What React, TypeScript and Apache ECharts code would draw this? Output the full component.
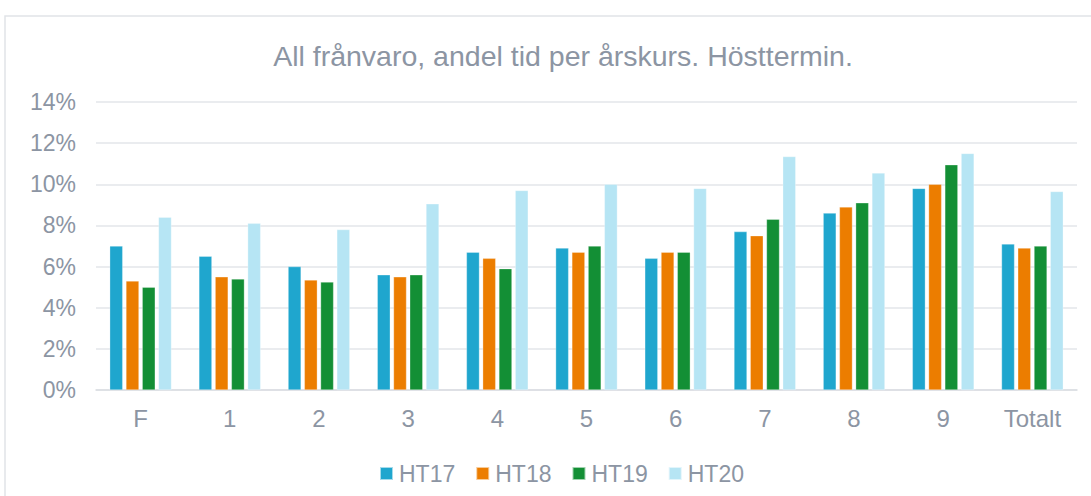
import React, { useEffect, useRef } from "react";
import * as echarts from "echarts";

const categories = ["F", "1", "2", "3", "4", "5", "6", "7", "8", "9", "Totalt"];
const seriesNames = ["HT17", "HT18", "HT19", "HT20"];
const ht17 = [7.0, 6.5, 6.0, 5.6, 6.7, 6.9, 6.4, 7.7, 8.6, 9.8, 7.1];
const ht18 = [5.3, 5.5, 5.35, 5.5, 6.4, 6.7, 6.7, 7.5, 8.9, 10.0, 6.9];
const ht19 = [5.0, 5.4, 5.25, 5.6, 5.9, 7.0, 6.7, 8.3, 9.1, 10.95, 7.0];
const ht20 = [8.4, 8.1, 7.8, 9.05, 9.7, 10.0, 9.8, 11.35, 10.55, 11.5, 9.65];
const colors = ["#1FA6CE", "#EC7D00", "#138F35", "#B6E5F4"];
const yTicks = { min: 0, max: 14, interval: 2 };

const textColor = "#8C95A3";
const font = "'Liberation Sans', Arial, sans-serif";

export default function App() {
  const ref = useRef<HTMLDivElement>(null);
  useEffect(() => {
    if (!ref.current) return;
    const chart = echarts.init(ref.current, null, { renderer: "svg" });
    const data = [ht17, ht18, ht19, ht20];
    chart.setOption({
      animation: false,
      backgroundColor: "#ffffff",
      textStyle: { fontFamily: font },
      title: {
        text: "All frånvaro, andel tid per årskurs. Hösttermin.",
        left: 558,
        textAlign: "center",
        top: 36,
        textStyle: { color: textColor, fontSize: 28.5, fontWeight: "normal", fontFamily: font },
      },
      graphic: [
        {
          type: "rect",
          shape: { x: 5, y: 16, width: 1100, height: 500 },
          style: { fill: "none", stroke: "#E1E4E8", lineWidth: 1.5 },
          silent: true,
          z: -1,
        },
      ],
      legend: {
        data: seriesNames,
        left: 374,
        top: 457,
        itemWidth: 13,
        itemHeight: 13,
        itemGap: 20,
        icon: "rect",
        textStyle: { color: textColor, fontSize: 23, fontFamily: font, padding: [0, 0, 0, 1] },
      },
      grid: { left: 96, right: 14, top: 102, bottom: 106 },
      xAxis: {
        type: "category",
        data: categories,
        axisLine: { lineStyle: { color: "#DADDE2", width: 1.5 } },
        axisTick: { show: false },
        axisLabel: { color: textColor, fontSize: 24, margin: 16, fontFamily: font },
      },
      yAxis: {
        type: "value",
        min: yTicks.min,
        max: yTicks.max,
        interval: yTicks.interval,
        axisLine: { show: false },
        axisTick: { show: false },
        splitLine: { lineStyle: { color: "#E3E6EA", width: 1.5 } },
        axisLabel: {
          color: textColor,
          fontSize: 23,
          margin: 20,
          fontFamily: font,
          formatter: (v: number) => `${v}%`,
        },
      },
      series: seriesNames.map((name, i) => ({
        name,
        type: "bar",
        data: data[i],
        barWidth: 13,
        barGap: "25%",
        itemStyle: { color: colors[i], borderColor: "rgba(255,255,255,0.6)", borderWidth: 0.5 },
      })),
    });
    return () => chart.dispose();
  }, []);
  return (
    <div
      ref={ref}
      style={{ position: "fixed", left: 0, top: 0, width: 1091, height: 496 }}
    />
  );
}
